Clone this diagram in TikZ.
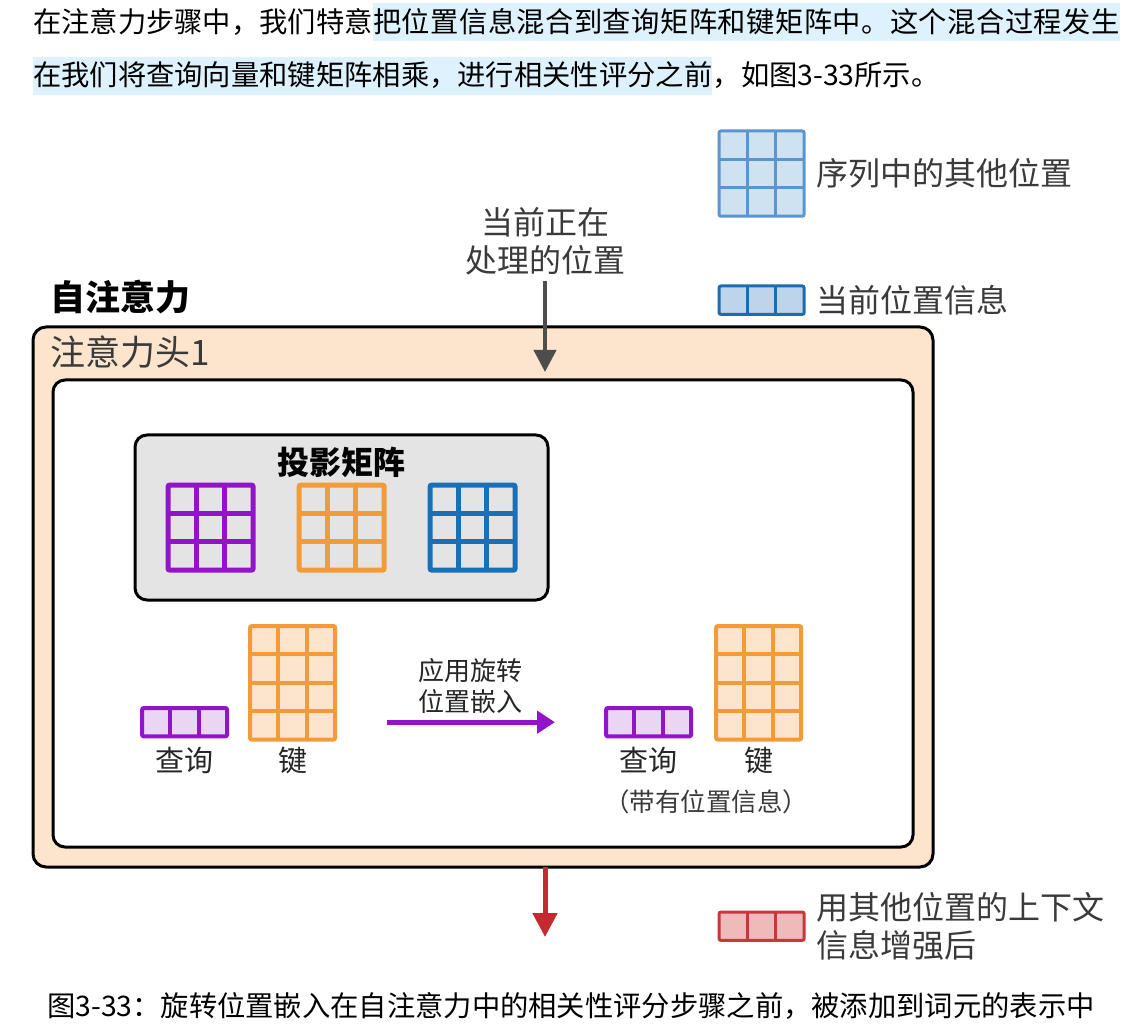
\documentclass[tikz,border=0pt]{standalone}
\usepackage{fontspec}
\setmainfont{Noto Sans CJK SC}
\newfontfamily\widecjk[LetterSpace=1.5]{Noto Sans CJK SC}
\usepackage{tikz}
\usetikzlibrary{arrows.meta,positioning,calc}
\definecolor{hlblue}{RGB}{221,242,252}
\definecolor{txtgray}{RGB}{58,58,58}
\definecolor{arrgray}{RGB}{77,77,77}
\definecolor{peach}{RGB}{253,229,205}
\definecolor{boxgray}{RGB}{228,228,228}
\definecolor{mpurple}{RGB}{145,20,200}
\definecolor{morange}{RGB}{241,156,56}
\definecolor{mblue}{RGB}{25,112,182}
\definecolor{qfill}{RGB}{234,214,244}
\definecolor{lgofill}{RGB}{207,226,242}
\definecolor{lgodraw}{RGB}{90,150,205}
\definecolor{lgcfill}{RGB}{190,212,234}
\definecolor{lgcdraw}{RGB}{28,108,178}
\definecolor{mred}{RGB}{196,42,48}
\definecolor{lgrfill}{RGB}{238,186,186}
\definecolor{lgrdraw}{RGB}{200,55,60}
\newcommand{\fsz}[2]{\fontsize{#1}{#2}\selectfont}
\def\cellw{28.4pt}
\newcommand{\cellgrid}[5]{%
  \node[cellbox, #5, minimum width=#3*\cellw, minimum height=#4*\cellw, anchor=north west] (#1) at #2 {};
  \pgfmathtruncatemacro{\lastc}{#3-1}%
  \pgfmathtruncatemacro{\lastr}{#4-1}%
  \foreach \c in {1,...,\lastc}{\draw[#5] ($(#1.north west)+(\c*\cellw,0pt)$) -- ($(#1.south west)+(\c*\cellw,0pt)$);}%
  \ifnum\lastr>0
    \foreach \r in {1,...,\lastr}{\draw[#5] ($(#1.north west)+(0pt,-\r*\cellw)$) -- ($(#1.north east)+(0pt,-\r*\cellw)$);}%
  \fi
}

\begin{document}
\begin{tikzpicture}[x=1pt,y=-1pt]
    \tikzstyle{txt}=[inner sep=0pt, text=txtgray]
    \tikzstyle{cellbox}=[rectangle, rounded corners=2pt, outer sep=0pt, inner sep=0pt]
    \tikzstyle{panel}=[draw=black, line width=3pt, rounded corners=13pt, anchor=north west, outer sep=0pt]
    \useasboundingbox[fill=white] (0,0) rectangle (1128,1032);

    \node[txt, text=black, anchor=base west, font=\fsz{28.3}{34}] (p1a) at (33,33) {在注意力步骤中，我们特意};
    \node[txt, text=black, anchor=base west, fill=hlblue, inner ysep=5.5pt, font=\widecjk\fsz{28.3}{34}] (p1b) at (p1a.base east) {把位置信息混合到查询矩阵和键矩阵中。这个混合过程发生};
    \node[txt, text=black, anchor=base west, fill=hlblue, inner ysep=5.5pt, font=\fsz{28.3}{34}] (p2a) at (33,86) {在我们将查询向量和键矩阵相乘，进行相关性评分之前};
    \node[txt, text=black, anchor=base west, font=\fsz{28.3}{34}] (p2b) at (p2a.base east) {，如图3-33所示。};

    \cellgrid{lgO}{(719,131)}{3}{3}{draw=lgodraw, fill=lgofill, line width=3pt}
    \node[txt, right=12pt of lgO, font=\fsz{32}{38}] (lgOt) {序列中的其他位置};
    \cellgrid{lgC}{(719,286)}{3}{1}{draw=lgcdraw, fill=lgcfill, line width=3pt}
    \node[txt, right=12pt of lgC, font=\fsz{32}{38}] (lgCt) {当前位置信息};

    \node[txt, align=center, font=\fsz{32}{38}] (cur) at (545,241) {当前正在\\处理的位置};
    \node[txt, text=black, anchor=west, font=\bfseries\fsz{35}{40}] (sa) at (50,297) {自注意力};

    \node[panel, fill=peach, minimum width=900, minimum height=540] (head) at (33,327) {};
    \node[txt, text=txtgray, anchor=west, font=\fsz{35}{40}] (headt) at (50,352) {注意力头1};
    \node[panel, fill=white, rounded corners=12pt, minimum width=860, minimum height=467] (inner) at (53,380) {};

    \node[panel, fill=boxgray, rounded corners=12pt, minimum width=413, minimum height=165] (proj) at (135,435) {};
    \node[txt, text=black, font=\bfseries\fsz{32}{38}] (projt) at (341,462) {投影矩阵};
    \cellgrid{pq}{(168,485)}{3}{3}{draw=mpurple, line width=5pt}
    \cellgrid{pk}{(299,485)}{3}{3}{draw=morange, line width=5pt}
    \cellgrid{pv}{(430,485)}{3}{3}{draw=mblue, line width=5pt}

    \cellgrid{qL}{(142,708)}{3}{1}{draw=mpurple, fill=qfill, line width=4pt}
    \cellgrid{kL}{(250,626)}{3}{4}{draw=morange, fill=peach, line width=4pt}
    \cellgrid{qR}{(606,708)}{3}{1}{draw=mpurple, fill=qfill, line width=4pt}
    \cellgrid{kR}{(716,626)}{3}{4}{draw=morange, fill=peach, line width=4pt}
    \node[txt, text=black!85, anchor=base, font=\fsz{29}{34}] (qLt) at ($(qL.south)+(0,35)$) {查询};
    \node[txt, text=black!85, anchor=base, font=\fsz{29}{34}] (kLt) at (kL.south |- qLt.base) {键};
    \node[txt, text=black!85, anchor=base, font=\fsz{29}{34}] (qRt) at (qR.south |- qLt.base) {查询};
    \node[txt, text=black!85, anchor=base, font=\fsz{29}{34}] (kRt) at (kR.south |- qLt.base) {键};
    \node[txt, font=\fsz{25.5}{30}] (note) at (706,802) {（带有位置信息）};

    \draw[-{Triangle[width=22pt,length=18pt]}, line width=5pt, mpurple, shorten <=52pt, shorten >=51pt]
      (kL.east |- qR.center) -- (qR.west)
      node[midway, above=6pt, txt, text=black!85, align=center, font=\fsz{26}{31}] {应用旋转\\位置嵌入};

    \draw[-{Triangle[width=22pt,length=22pt]}, line width=4pt, arrgray, shorten <=6pt, shorten >=8pt]
      (cur.south) -- (cur.south |- inner.north);

    \coordinate (outp) at (545,937);
    \draw[-{Triangle[width=24pt,length=24pt]}, line width=5pt, mred] (outp |- head.south) -- (outp);

    \cellgrid{lgR}{(719,912)}{3}{1}{draw=lgrdraw, fill=lgrfill, line width=3pt}
    \node[txt, right=12pt of lgR, align=left, font=\fsz{32}{38}] (lgRt) {用其他位置的上下文\\信息增强后};

    \node[txt, text=black, anchor=base west, font=\fsz{28.3}{34}] (cap) at (47,1016) {图3-33：旋转位置嵌入在自注意力中的相关性评分步骤之前，被添加到词元的表示中};
\end{tikzpicture}
\end{document}
